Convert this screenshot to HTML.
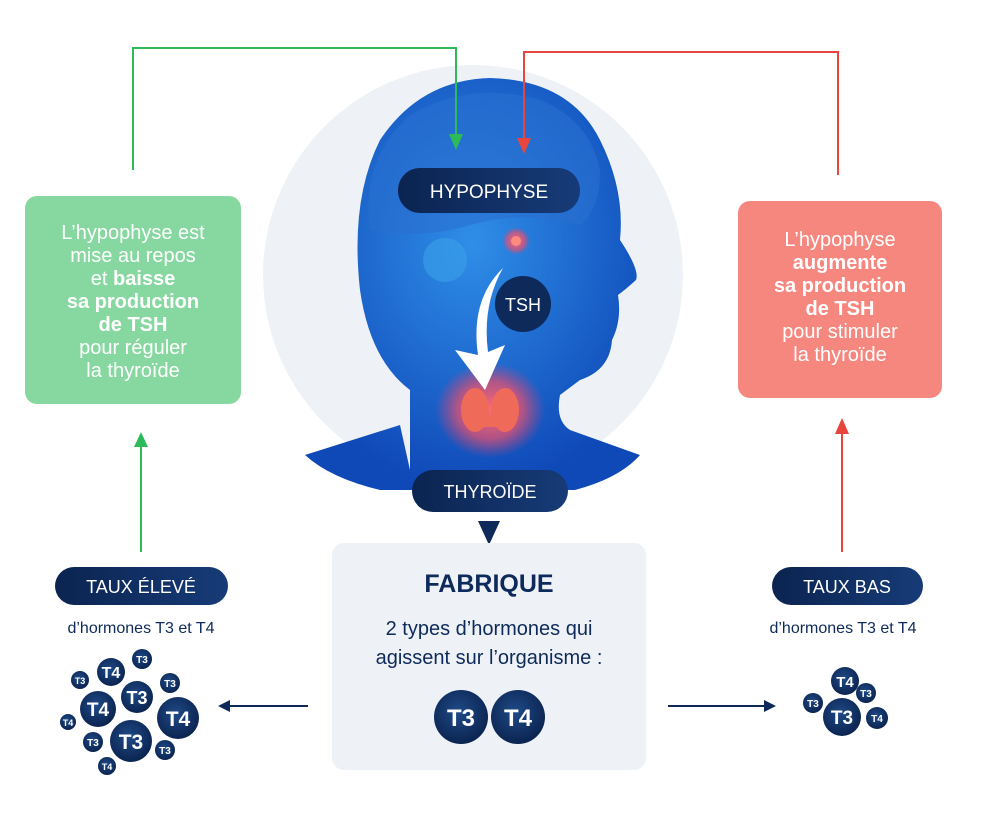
<!DOCTYPE html>
<html><head><meta charset="utf-8"><style>
html,body{margin:0;padding:0;background:#fff;}
svg{display:block;font-family:"Liberation Sans",sans-serif;}
</style></head><body>
<svg width="1000" height="825" viewBox="0 0 1000 825" xmlns="http://www.w3.org/2000/svg">
<defs>
<radialGradient id="bub" cx="45%" cy="40%" r="60%"><stop offset="0" stop-color="#1f4a87"/><stop offset="1" stop-color="#0b2450"/></radialGradient>
<linearGradient id="pill" x1="0" x2="1"><stop offset="0" stop-color="#0b2450"/><stop offset="1" stop-color="#173b78"/></linearGradient>
<radialGradient id="headg" cx="50%" cy="40%" r="60%"><stop offset="0" stop-color="#2f8ee8"/><stop offset="1" stop-color="#0f49b8"/></radialGradient>
<radialGradient id="glow" cx="50%" cy="50%" r="50%"><stop offset="0" stop-color="#ff6a7a"/><stop offset="0.6" stop-color="#f0506a" stop-opacity="0.7"/><stop offset="1" stop-color="#e04070" stop-opacity="0"/></radialGradient>
</defs>
<!-- background circle -->
<circle cx="473" cy="275" r="210" fill="#eef2f7"/>
<!-- head -->
<path d="M410 470 L410 390 Q370 360 360 290 Q350 200 380 140 Q420 80 490 78 Q570 80 600 140 Q625 190 620 240 Q640 270 636 280 Q625 290 618 295 Q622 320 612 340 Q610 370 580 380 L560 395 Q555 420 570 430 L640 455 Q620 478 575 490 L380 490 Q330 478 305 455 L400 425 Z" fill="url(#headg)"/>
<path d="M370 230 Q360 160 410 115 Q470 80 540 100 Q590 120 600 170 Q600 210 580 225 Q520 210 470 225 Q420 240 370 230Z" fill="#2a6fd0" opacity="0.6"/>
<circle cx="445" cy="260" r="22" fill="#3aa0e8" opacity="0.6"/>
<ellipse cx="490" cy="410" rx="55" ry="48" fill="url(#glow)"/>
<ellipse cx="475" cy="410" rx="14" ry="22" fill="#f06a5a"/><ellipse cx="505" cy="410" rx="14" ry="22" fill="#f06a5a"/><rect x="475" y="415" width="30" height="12" fill="#f06a5a"/>
<circle cx="516" cy="241" r="14" fill="url(#glow)"/><circle cx="516" cy="241" r="5" fill="#ff8a80"/>
<path d="M503 268 Q470 300 478 355 L455 350 L485 390 L505 345 L488 352 Q482 305 503 268Z" fill="#fff"/>
<!-- pills in circle -->
<rect x="398" y="168" width="182" height="45" rx="22" fill="url(#pill)"/>
<text x="489" y="198" text-anchor="middle" fill="#fff" font-size="19" font-weight="500">HYPOPHYSE</text>
<circle cx="523" cy="304" r="28" fill="#0e2a5a"/>
<text x="523" y="311" text-anchor="middle" fill="#fff" font-size="18">TSH</text>
<rect x="412" y="470" width="156" height="42" rx="21" fill="url(#pill)"/>
<text x="490" y="498" text-anchor="middle" fill="#fff" font-size="18">THYROÏDE</text>
<path d="M478 521 L500 521 L489 545 Z" fill="#0e2a5a"/>
<!-- connectors -->
<polyline points="133,170 133,48 456,48 456,136" fill="none" stroke="#2dbb5a" stroke-width="2"/>
<path d="M449 134 L463 134 L456 150 Z" fill="#2dbb5a"/>
<polyline points="838,175 838,52 524,52 524,140" fill="none" stroke="#e8453c" stroke-width="2"/>
<path d="M517 138 L531 138 L524 154 Z" fill="#e8453c"/>
<line x1="141" y1="552" x2="141" y2="445" stroke="#2dbb5a" stroke-width="2"/>
<path d="M134 447 L148 447 L141 432 Z" fill="#2dbb5a"/>
<line x1="842" y1="552" x2="842" y2="432" stroke="#e8453c" stroke-width="2"/>
<path d="M835 434 L849 434 L842 418 Z" fill="#e8453c"/>
<line x1="228" y1="706" x2="308" y2="706" stroke="#0e2a5a" stroke-width="2"/>
<path d="M230 700 L230 712 L218 706 Z" fill="#0e2a5a"/>
<line x1="668" y1="706" x2="766" y2="706" stroke="#0e2a5a" stroke-width="2"/>
<path d="M764 700 L764 712 L776 706 Z" fill="#0e2a5a"/>
<!-- green box -->
<rect x="25" y="196" width="216" height="208" rx="12" fill="#86d8a0"/>
<g fill="#fff" font-size="20" text-anchor="middle">
<text x="133" y="239">L’hypophyse est</text>
<text x="133" y="262">mise au repos</text>
<text x="133" y="285">et <tspan font-weight="bold">baisse</tspan></text>
<text x="133" y="308" font-weight="bold">sa production</text>
<text x="133" y="331" font-weight="bold">de TSH</text>
<text x="133" y="354">pour réguler</text>
<text x="133" y="377">la thyroïde</text>
</g>
<!-- red box -->
<rect x="738" y="201" width="204" height="197" rx="12" fill="#f6877f"/>
<g fill="#fff" font-size="20" text-anchor="middle">
<text x="840" y="246">L’hypophyse</text>
<text x="840" y="269" font-weight="bold">augmente</text>
<text x="840" y="292" font-weight="bold">sa production</text>
<text x="840" y="315" font-weight="bold">de TSH</text>
<text x="840" y="338">pour stimuler</text>
<text x="840" y="361">la thyroïde</text>
</g>
<!-- center box -->
<rect x="332" y="543" width="314" height="227" rx="12" fill="#eef2f7"/>
<text x="489" y="592" text-anchor="middle" fill="#0e2a5a" font-size="25" font-weight="bold">FABRIQUE</text>
<text x="489" y="635" text-anchor="middle" fill="#0e2a5a" font-size="20">2 types d’hormones qui</text>
<text x="489" y="664" text-anchor="middle" fill="#0e2a5a" font-size="20">agissent sur l’organisme :</text>
<circle cx="461" cy="717" r="27" fill="url(#bub)"/>
<circle cx="518" cy="717" r="27" fill="url(#bub)"/>
<text x="461" y="726" text-anchor="middle" fill="#fff" font-size="24" font-weight="bold">T3</text>
<text x="518" y="726" text-anchor="middle" fill="#fff" font-size="24" font-weight="bold">T4</text>
<!-- taux pills -->
<rect x="55" y="567" width="173" height="38" rx="19" fill="url(#pill)"/>
<text x="141" y="593" text-anchor="middle" fill="#fff" font-size="18">TAUX ÉLEVÉ</text>
<text x="141" y="633" text-anchor="middle" fill="#0e2a5a" font-size="16">d’hormones T3 et T4</text>
<rect x="772" y="567" width="151" height="38" rx="19" fill="url(#pill)"/>
<text x="847" y="593" text-anchor="middle" fill="#fff" font-size="18">TAUX BAS</text>
<text x="843" y="633" text-anchor="middle" fill="#0e2a5a" font-size="16">d’hormones T3 et T4</text>
<!-- left cluster -->
<g fill="url(#bub)">
<circle cx="142" cy="659" r="10"/><circle cx="111" cy="672" r="14"/><circle cx="80" cy="680" r="9"/>
<circle cx="137" cy="697" r="16"/><circle cx="170" cy="683" r="10"/><circle cx="98" cy="709" r="18"/>
<circle cx="178" cy="718" r="21"/><circle cx="68" cy="722" r="8"/><circle cx="93" cy="742" r="10"/>
<circle cx="131" cy="741" r="21"/><circle cx="165" cy="750" r="10"/><circle cx="107" cy="766" r="9"/>
</g>
<g fill="#fff" font-weight="bold" text-anchor="middle">
<text x="142" y="663" font-size="10">T3</text><text x="111" y="678" font-size="16">T4</text><text x="80" y="684" font-size="9">T3</text>
<text x="137" y="704" font-size="18">T3</text><text x="170" y="687" font-size="10">T3</text><text x="98" y="716" font-size="19">T4</text>
<text x="178" y="726" font-size="21">T4</text><text x="68" y="726" font-size="9">T4</text><text x="93" y="746" font-size="10">T3</text>
<text x="131" y="749" font-size="21">T3</text><text x="165" y="754" font-size="10">T3</text><text x="107" y="770" font-size="9">T4</text>
</g>
<!-- right cluster -->
<g fill="url(#bub)">
<circle cx="845" cy="681" r="14"/><circle cx="866" cy="693" r="10"/><circle cx="813" cy="703" r="10"/>
<circle cx="842" cy="717" r="19"/><circle cx="877" cy="718" r="11"/>
</g>
<g fill="#fff" font-weight="bold" text-anchor="middle">
<text x="845" y="687" font-size="15">T4</text><text x="866" y="697" font-size="10">T3</text><text x="813" y="707" font-size="10">T3</text>
<text x="842" y="724" font-size="19">T3</text><text x="877" y="722" font-size="10">T4</text>
</g>
</svg>
</body></html>
